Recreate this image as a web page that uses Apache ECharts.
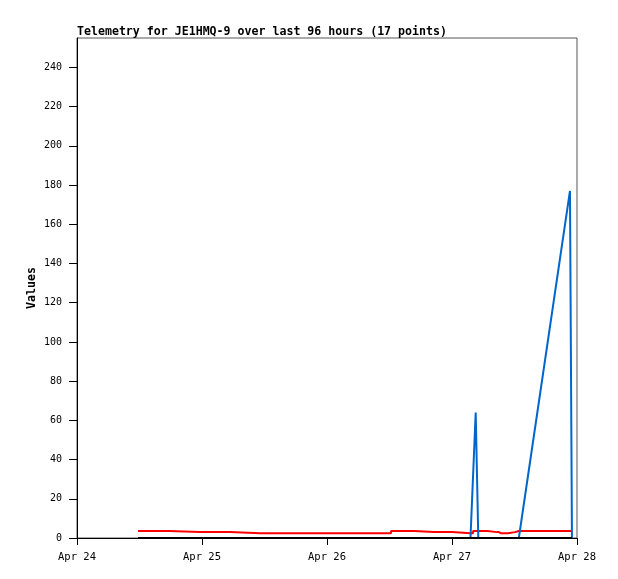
<!DOCTYPE html>
<html>
<head>
<meta charset="utf-8">
<script src="https://cdn.jsdelivr.net/npm/echarts@6/dist/echarts.min.js"></script>
<style>
html,body{margin:0;padding:0;background:#fff;}
#chart{width:618px;height:579px;}
</style>
</head>
<body>
<div id="chart"></div>
<script>
// Sample times (day, hh:mm) in April
const times = ['24 11:43','24 23:37','25 11:08','25 18:49','26 02:30','26 11:43','26 12:52','26 20:33',
  '27 03:33','27 04:33','27 05:03','27 08:38','27 09:25','27 12:06','27 12:50','27 22:39','27 23:02'];
const redValues   = [3.6,3.0,2.4,2.4,2.4,2.4,3.6,3.0,2.4,3.6,3.6,3.0,2.4,3.0,3.6,3.6,3.6];
const blueValues  = [0,0,0,0,0,0,0,0,0,64,0,0,0,0,0,177,0];
const blackValues = [0,0,0,0,0,0,0,0,0,0,0,0,0,0,0,0,0];
const xTickHours  = [0,24,48,72,96];
const xTickLabels = ['Apr 24','Apr 25','Apr 26','Apr 27','Apr 28'];
const yTicks      = [0,20,40,60,80,100,120,140,160,180,200,220,240];

function toHours(t){
  const [d, hm] = t.split(' ');
  const [h, m] = hm.split(':').map(Number);
  return (Number(d) - 24) * 24 + h + m / 60;
}
const xs = times.map(toHours);
const pairs = vals => xs.map((x, i) => [x, vals[i]]);

const font = 'DejaVu Sans Mono';
const chart = echarts.init(document.getElementById('chart'), null, {renderer: 'canvas'});
chart.setOption({
  animation: false,
  backgroundColor: '#fff',
  title: {
    text: 'Telemetry for JE1HMQ-9 over last 96 hours (17 points)',
    left: 72, top: 21,
    textStyle: {fontFamily: font, fontSize: 11.6, fontWeight: 'bold', color: '#000'}
  },
  grid: {left: 77, right: 41, top: 38, bottom: 41, show: true, borderColor: '#555', borderWidth: 1, backgroundColor: '#fff'},
  xAxis: {
    type: 'value', min: 0, max: 96, interval: 24,
    axisLine: {show: true, onZero: false, lineStyle: {color: '#000', width: 1}},
    axisTick: {show: true, length: 7, customValues: xTickHours, lineStyle: {color: '#000'}},
    axisLabel: {
      customValues: xTickHours, margin: 14,
      formatter: v => xTickLabels[xTickHours.indexOf(v)] || '',
      fontFamily: font, fontSize: 10.5, color: '#000'
    },
    splitLine: {show: false}
  },
  yAxis: {
    type: 'value', min: 0, max: 255, interval: 20,
    name: 'Values', nameLocation: 'middle', nameGap: 39, nameRotate: 90, nameMoveOverlap: false,
    nameTextStyle: {fontFamily: font, fontSize: 11.6, fontWeight: 'bold', color: '#000'},
    axisLine: {show: true, lineStyle: {color: '#000', width: 1}},
    axisTick: {show: true, length: 8, customValues: yTicks, lineStyle: {color: '#000'}},
    axisLabel: {customValues: yTicks, margin: 15, fontFamily: font, fontSize: 10, color: '#000'},
    splitLine: {show: false}
  },
  series: [
    {type: 'line', step: 'middle', data: pairs(redValues), showSymbol: false, lineStyle: {color: '#ff0000', width: 2}, z: 2},
    {type: 'line', data: pairs(blueValues), showSymbol: false, lineStyle: {color: '#0066cc', width: 2}, z: 3},
    {type: 'line', data: pairs(blackValues), showSymbol: false, lineStyle: {color: '#000000', width: 2}, z: 4}
  ]
});
</script>
</body>
</html>
